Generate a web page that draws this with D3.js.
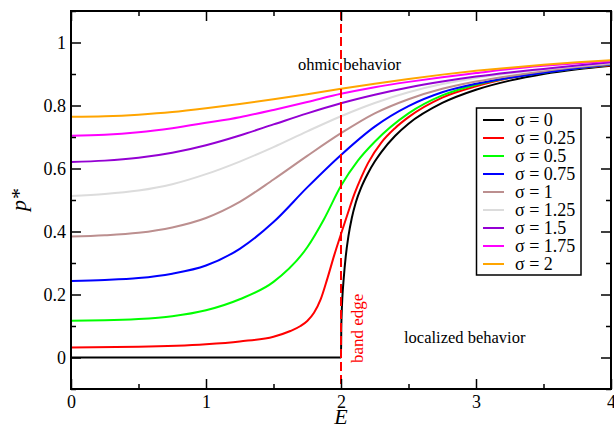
<!DOCTYPE html>
<html>
<head>
<meta charset="utf-8">
<script src="https://cdn.jsdelivr.net/npm/d3@7"></script>
<style>
  body { margin: 0; background: #fff; }
  text { font-family: 'Liberation Serif', 'Times New Roman', serif; }
</style>
</head>
<body>
<svg id="chart" width="614" height="429"></svg>
<script>
const sigmas = ['0', '0.25', '0.5', '0.75', '1', '1.25', '1.5', '1.75', '2'];
const colors = ['#000000', '#ff0000', '#00ff00', '#0000ff', '#bc8f8f', '#dcdcdc', '#9400d3', '#ff00ff', '#ffa500'];

// [E, p*] points
const s0 = [[0, 0], [1, 0], [2, 0], [2.002, 0.09], [2.005, 0.14], [2.01, 0.19], [2.02, 0.25], [2.035, 0.32],
  [2.055, 0.385], [2.08, 0.443], [2.11, 0.493], [2.15, 0.54], [2.2, 0.585], [2.25, 0.622], [2.3, 0.653],
  [2.4, 0.703], [2.5, 0.742], [2.75, 0.808], [3, 0.85], [3.25, 0.879], [3.5, 0.9], [3.75, 0.915], [4, 0.926]];
const s025 = [[0, 0.032], [0.5, 0.034], [1, 0.042], [1.25, 0.051], [1.5, 0.066], [1.625, 0.084], [1.7, 0.1],
  [1.75, 0.116], [1.8, 0.142], [1.85, 0.185], [1.9, 0.252], [1.95, 0.325], [2, 0.392], [2.05, 0.457], [2.1, 0.52],
  [2.15, 0.572], [2.2, 0.617], [2.3, 0.683], [2.4, 0.728], [2.5, 0.763], [2.75, 0.825], [3, 0.861], [3.25, 0.887],
  [3.5, 0.906], [3.75, 0.918], [4, 0.928]];
const s05 = [[0, 0.117], [0.25, 0.118], [0.5, 0.122], [0.75, 0.131], [1, 0.15], [1.25, 0.185], [1.5, 0.24],
  [1.75, 0.35], [1.875, 0.44], [2, 0.545], [2.125, 0.625], [2.25, 0.685], [2.5, 0.775], [2.75, 0.832],
  [3, 0.866], [3.25, 0.888], [3.5, 0.904], [3.75, 0.918], [4, 0.929]];
const s075 = [[0, 0.243], [0.25, 0.246], [0.5, 0.252], [0.75, 0.266], [1, 0.292], [1.25, 0.345], [1.5, 0.43],
  [1.75, 0.54], [2, 0.643], [2.25, 0.733], [2.5, 0.798], [2.75, 0.842], [3, 0.869], [3.25, 0.888], [3.5, 0.904],
  [3.75, 0.918], [4, 0.93]];
const s1 = [[0, 0.384], [0.25, 0.388], [0.5, 0.396], [0.75, 0.413], [1, 0.443], [1.25, 0.494], [1.5, 0.565],
  [1.75, 0.64], [2, 0.712], [2.25, 0.775], [2.5, 0.82], [2.75, 0.853], [3, 0.876], [3.25, 0.894], [3.5, 0.909],
  [3.75, 0.922], [4, 0.932]];
const s125 = [[0, 0.513], [0.25, 0.519], [0.5, 0.53], [0.75, 0.55], [1, 0.582], [1.25, 0.622], [1.5, 0.668],
  [1.75, 0.718], [2, 0.766], [2.25, 0.808], [2.5, 0.842], [2.75, 0.868], [3, 0.887], [3.25, 0.902], [3.5, 0.914],
  [3.75, 0.925], [4, 0.935]];
const s15 = [[0, 0.621], [0.25, 0.625], [0.5, 0.634], [0.75, 0.65], [1, 0.674], [1.25, 0.705], [1.5, 0.74],
  [1.75, 0.775], [2, 0.807], [2.25, 0.834], [2.5, 0.857], [2.75, 0.876], [3, 0.892], [3.25, 0.905], [3.5, 0.916],
  [3.75, 0.927], [4, 0.937]];
const s175 = [[0, 0.704], [0.25, 0.707], [0.5, 0.715], [0.75, 0.728], [1, 0.745], [1.25, 0.763], [1.5, 0.786],
  [1.75, 0.811], [2, 0.837], [2.25, 0.858], [2.5, 0.875], [2.75, 0.89], [3, 0.903], [3.25, 0.916], [3.5, 0.926],
  [3.75, 0.934], [4, 0.941]];
const s2 = [[0, 0.764], [0.25, 0.766], [0.5, 0.771], [0.75, 0.779], [1, 0.791], [1.25, 0.805], [1.5, 0.82],
  [1.75, 0.836], [2, 0.853], [2.25, 0.869], [2.5, 0.884], [2.75, 0.898], [3, 0.91], [3.25, 0.92], [3.5, 0.929],
  [3.75, 0.937], [4, 0.944]];
const series = [s0, s025, s05, s075, s1, s125, s15, s175, s2];

const xTicks = [0, 1, 2, 3, 4];
const xMinor = [0.5, 1.5, 2.5, 3.5];
const yTicks = [0, 0.2, 0.4, 0.6, 0.8, 1];
const yMinor = [-0.1, 0.1, 0.3, 0.5, 0.7, 0.9, 1.1];
const bandEdge = 2;

const svg = d3.select('#chart');
const pLeft = 71, pRight = 611, pTop = 11, pBottom = 389;

const x = d3.scaleLinear().domain([0, 4]).range([pLeft, pRight]);
const y = d3.scaleLinear().domain([-0.1, 1.1]).range([pBottom, pTop]);

const line = d3
  .line()
  .x(d => x(d[0]))
  .y(d => y(d[1]))
  .curve(d3.curveMonotoneX);

const gLines = svg.append('g').attr('class', 'g_lines');
series.forEach((s, i) => {
  gLines
    .append('path')
    .datum(s)
    .attr('d', line)
    .style('fill', 'none')
    .style('stroke', colors[i])
    .style('stroke-width', 2);
});

// band edge marker
svg
  .append('line')
  .attr('x1', x(bandEdge))
  .attr('x2', x(bandEdge))
  .attr('y1', pTop)
  .attr('y2', pBottom)
  .style('stroke', '#ff0000')
  .style('stroke-width', 2)
  .style('stroke-dasharray', '9,4');

// axes, ticks pointing inward on all four sides
function addAxis(axisFn, scale, major, minor, transform, labels) {
  const gMajor = svg
    .append('g')
    .attr('transform', transform)
    .call(axisFn(scale).tickValues(major).tickSize(-10).tickPadding(labels ? labels : 0)
      .tickFormat(labels ? d3.format('') : ''));
  const gMinor = svg
    .append('g')
    .attr('transform', transform)
    .call(axisFn(scale).tickValues(minor).tickSize(-5).tickFormat(''));
  [gMajor, gMinor].forEach(g => {
    g.select('.domain').remove();
    g.selectAll('line').style('stroke', '#000').style('stroke-width', 1.5);
    g.selectAll('text')
      .style('font-size', '18px')
      .style('font-family', "'Liberation Serif', serif")
      .style('fill', '#000');
  });
}

addAxis(d3.axisBottom, x, xTicks, xMinor, 'translate(0,' + pBottom + ')', 6);
addAxis(d3.axisTop, x, xTicks, xMinor, 'translate(0,' + pTop + ')', 0);
addAxis(d3.axisLeft, y, yTicks, yMinor, 'translate(' + pLeft + ',0)', 5);
addAxis(d3.axisRight, y, yTicks, yMinor, 'translate(' + pRight + ',0)', 0);

svg
  .append('rect')
  .attr('x', pLeft)
  .attr('y', pTop)
  .attr('width', pRight - pLeft)
  .attr('height', pBottom - pTop)
  .style('fill', 'none')
  .style('stroke', '#000')
  .style('stroke-width', 2);

// axis titles
svg
  .append('text')
  .text('E')
  .attr('x', x(2))
  .attr('y', 424)
  .attr('text-anchor', 'middle')
  .style('font-size', '22px')
  .style('font-style', 'italic');

svg
  .append('text')
  .text('p*')
  .attr('transform', 'translate(26,200) rotate(-90)')
  .attr('text-anchor', 'middle')
  .style('font-size', '22px')
  .style('font-style', 'italic');

// annotations
svg
  .append('text')
  .text('ohmic behavior')
  .attr('x', 298)
  .attr('y', 70)
  .style('font-size', '16.5px');

svg
  .append('text')
  .text('localized behavior')
  .attr('x', 404)
  .attr('y', 343)
  .style('font-size', '16.5px');

svg
  .append('text')
  .text('band edge')
  .attr('transform', 'translate(362.5,363) rotate(-90)')
  .style('font-size', '17px')
  .style('fill', '#ff0000');

// legend
const legend = svg.append('g').attr('class', 'g_legend');
legend
  .append('rect')
  .attr('x', 476.5)
  .attr('y', 108)
  .attr('width', 104.5)
  .attr('height', 167)
  .style('fill', '#fff')
  .style('stroke', '#000')
  .style('stroke-width', 1.5);

const legendY = d3.scaleLinear().domain([0, sigmas.length - 1]).range([120, 264]);
sigmas.forEach((s, i) => {
  legend
    .append('line')
    .attr('x1', 483)
    .attr('x2', 504)
    .attr('y1', legendY(i))
    .attr('y2', legendY(i))
    .style('stroke', colors[i])
    .style('stroke-width', 2);
  legend
    .append('text')
    .text('σ = ' + s)
    .attr('x', 515)
    .attr('y', legendY(i))
    .attr('dy', '0.35em')
    .style('font-size', '18px');
});
</script>
</body>
</html>
